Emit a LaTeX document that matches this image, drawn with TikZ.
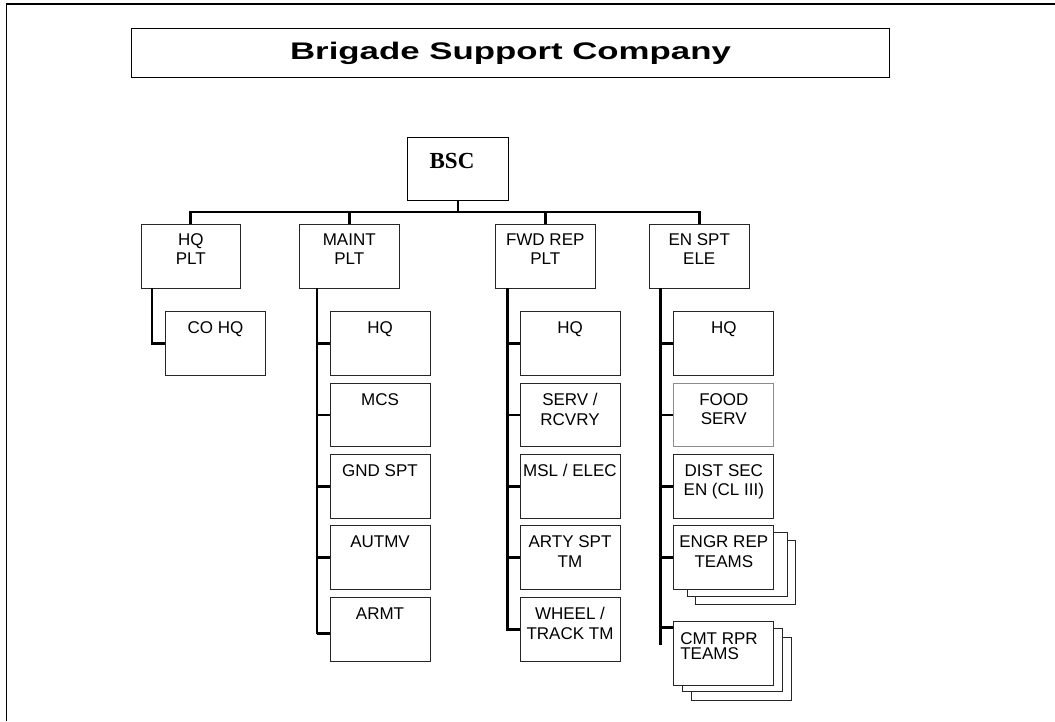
\documentclass[tikz,border=0pt]{standalone}
\usepackage{fontspec}
\setmainfont{Liberation Sans}
\newfontfamily\tnr{Liberation Serif}
\newcommand\lblfont{\fontsize{17}{19.5}\selectfont}
\newcommand\lvone[1]{\parbox[t][64pt][t]{99.5pt}{\centering\vspace*{9pt}#1}}
\newcommand\kid[1]{\parbox[t][63.5pt][t]{100pt}{\centering\vspace*{10pt}#1}}
\begin{document}
\begin{tikzpicture}[x=1pt,y=-1pt,
  conn/.style={line width=2.8pt, line join=miter},
  thinconn/.style={line width=1.2pt},
  ubox/.style={draw=black!85, line width=1pt, fill=white, inner sep=0pt, anchor=north west, font=\lblfont},
  graybox/.style={ubox, draw=black!45},
  backbox/.style={draw=black!85, line width=1pt, fill=white, inner sep=0pt, anchor=north west, minimum width=100pt, minimum height=63.3pt},
]
\useasboundingbox (0,0) rectangle (1055,721);
% outer frame
\draw[line width=1.9pt] (6.5,721) -- (6.5,4) -- (1055,4);

% title
\node[draw, line width=1pt, inner sep=0pt, anchor=north west, minimum width=758pt, minimum height=49pt,
      font=\bfseries\fontsize{24}{28}\selectfont] (title) at (131,28) {\scalebox{1.45}[1]{Brigade Support Company}};

% top node
\node[draw, line width=1pt, fill=white, inner sep=0pt, anchor=north west] (bsc) at (407,137)
  {\parbox[t][63pt][t]{101pt}{\centering\vspace*{16pt}\tnr\bfseries\fontsize{23}{26}\selectfont BSC\hspace*{12pt}}};

% level one
\node[ubox] (hqp) at (140.5,224) {\lvone{HQ\\PLT}};
\node[ubox] (mp)  at (299,224)   {\lvone{MAINT\\PLT}};
\node[ubox] (fp)  at (495,224)   {\lvone{FWD REP\\PLT}};
\node[ubox] (ep)  at (649,224)   {\lvone{EN SPT\\ELE}};

\coordinate (bus) at (457.5,212);
\draw[conn] (hqp.north) -- (hqp.north |- bus) -- (ep.north |- bus) -- (ep.north);
\draw[conn] (bsc.south) -- (bsc.south |- bus);
\draw[conn] (mp.north) -- (mp.north |- bus);
\draw[conn] (fp.north) -- (fp.north |- bus);

% HQ PLT child
\node[ubox] (cohq) at (165,311) {\kid{CO HQ}};
\coordinate (h0) at (152,288);
\draw[conn] (h0) |- (cohq.west);

% MAINT PLT children
\node[ubox] (mhq)  at (329.5,311)   {\kid{HQ}};
\node[ubox] (mcs)  at (329.5,382.7) {\kid{MCS}};
\node[ubox] (gnd)  at (329.5,454)   {\kid{GND SPT}};
\node[ubox] (aut)  at (329.5,525.3) {\kid{AUTMV}};
\node[ubox] (armt) at (329.5,597)   {\kid{ARMT}};
\coordinate (m0) at (317,288);
\coordinate (mlast) at ([yshift=-4.5pt]armt.west);
\draw[thinconn] (m0) -- (m0 |- mlast);
\foreach \n in {mhq,mcs,gnd,aut} \draw[conn] (m0 |- \n.west) -- (\n.west);
\draw[conn] (m0 |- mlast) -- (mlast);

% FWD REP PLT children
\node[ubox] (fhq)   at (519.5,311)   {\kid{HQ}};
\node[ubox] (serv)  at (519.5,382.7) {\kid{SERV /\\RCVRY}};
\node[ubox] (msl)   at (519.5,454)   {\kid{MSL / ELEC}};
\node[ubox] (arty)  at (519.5,525.3) {\kid{ARTY SPT\\TM}};
\node[ubox] (wheel) at (519.5,597)   {\kid{WHEEL /\\TRACK TM}};
\coordinate (f0) at (507.5,288);
\draw[conn] (f0) |- (wheel.west);
\foreach \n in {fhq,serv,msl,arty} \draw[conn] (f0 |- \n.west) -- (\n.west);

% EN SPT ELE children
\node[ubox] (ehq)  at (673.3,311)   {\kid{HQ}};
\node[graybox] (food) at (673.3,382.7) {\kid{FOOD\\SERV}};
\node[ubox] (dist) at (673.3,454)   {\kid{DIST SEC\\EN (CL III)}};
\node[backbox] (engr3) at (695.3,540.3) {};
\node[backbox] (engr2) at (686.7,532.3) {};
\node[ubox] (engr) at (673.3,525.3) {\kid{ENGR REP\\TEAMS}};
\node[backbox] (cmt3) at (690.7,636.7) {};
\node[backbox] (cmt2) at (682,627.7) {};
\node[ubox] (cmt)  at (673.3,621)
  {\parbox[t][63.5pt][t]{100pt}{\fontsize{17}{15.5}\selectfont\raggedright\vspace*{11pt}\hspace*{6.5pt}CMT RPR\\\hspace*{6.5pt}TEAMS}};
\coordinate (e0) at (660.5,288);
\coordinate (eend) at (660.5,645);
\coordinate (clast) at ([yshift=-6.7pt]cmt.north west);
\draw[conn] (e0) -- (eend);
\foreach \n in {ehq,food,dist,engr} \draw[conn] (e0 |- \n.west) -- (\n.west);
\draw[conn] (e0 |- clast) -- (clast);
\end{tikzpicture}
\end{document}
